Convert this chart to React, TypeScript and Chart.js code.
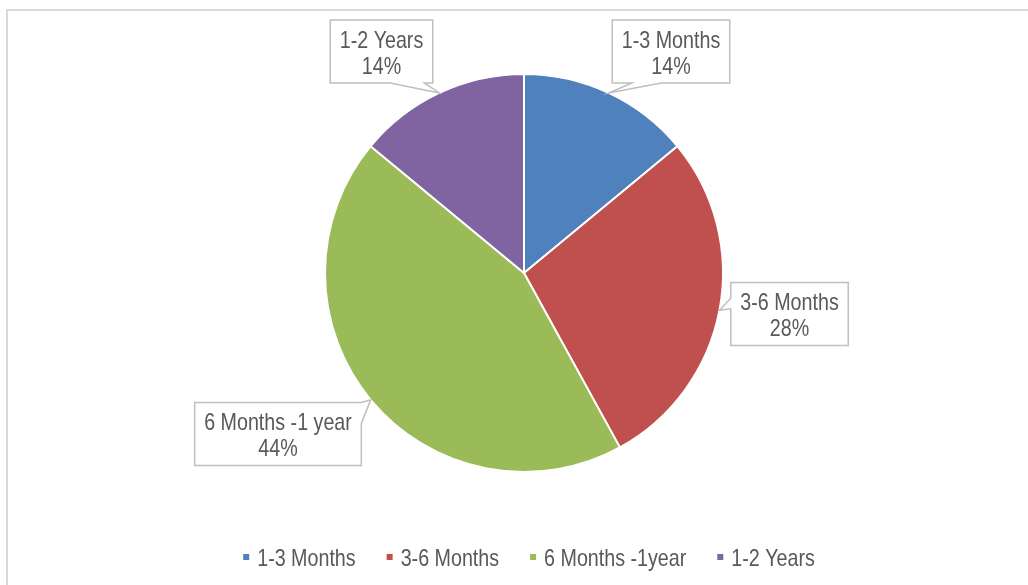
import React, { useEffect, useRef } from "react";
import { Chart, registerables } from "chart.js";

Chart.register(...registerables);

// ---- data ----
const categories = ["1-3 Months", "3-6 Months", "6 Months -1year", "1-2 Years"];
const calloutNames = ["1-3 Months", "3-6 Months", "6 Months -1 year", "1-2 Years"];
const shares = [14, 28, 44, 14];
const sliceColors = ["#4F81BD", "#C0504D", "#9BBB59", "#8064A2"];

// ---- callout layout (box centre offset from pie centre, wedge edge / base fractions) ----
const calloutOffsets: number[][] = [
  [147, -221.5],
  [265.5, 41],
  [-246, 161],
  [-142.5, -221.5],
];
const wedgeEdges = ["bottom", "left", "right", "bottom"];
const wedgeBases: number[][] = [
  [1 / 6, 5 / 12],
  [1 / 4, 5 / 12],
  [0, 1 / 3],
  [7 / 12, 11 / 12],
];

const W = 1028;
const H = 585;
const TEXT_COLOR = "#595959";
const FONT_SIZE = 24;

let fontFamily = '"Liberation Sans", Arial, sans-serif';
let xScale = 0.82;

function setupFont(ctx: CanvasRenderingContext2D) {
  const probe = "1-3 Months Wy";
  ctx.font = `${FONT_SIZE}px monospace`;
  const a = ctx.measureText(probe).width;
  ctx.font = `${FONT_SIZE}px "Liberation Sans Narrow", monospace`;
  const b = ctx.measureText(probe).width;
  if (Math.abs(a - b) > 0.5) {
    fontFamily = '"Liberation Sans Narrow", "Arial Narrow", sans-serif';
    xScale = 1;
  }
}

function setFont(ctx: CanvasRenderingContext2D) {
  ctx.font = `${FONT_SIZE}px ${fontFamily}`;
}

function textW(ctx: CanvasRenderingContext2D, t: string) {
  return ctx.measureText(t).width * xScale;
}

function drawText(
  ctx: CanvasRenderingContext2D,
  t: string,
  x: number,
  y: number,
  align: CanvasTextAlign
) {
  ctx.save();
  ctx.translate(x, y);
  ctx.scale(xScale, 1);
  ctx.textAlign = align;
  ctx.textBaseline = "alphabetic";
  ctx.fillStyle = TEXT_COLOR;
  ctx.fillText(t, 0, 0);
  ctx.restore();
}

const decorPlugin = {
  id: "decor",
  beforeDraw(chart: any) {
    const ctx: CanvasRenderingContext2D = chart.ctx;
    ctx.save();
    ctx.fillStyle = "#ffffff";
    ctx.fillRect(0, 0, W, H);
    ctx.strokeStyle = "#D9D9D9";
    ctx.lineWidth = 2;
    ctx.strokeRect(7, 10, W + 100, H + 100);
    ctx.restore();
  },
  afterDatasetsDraw(chart: any) {
    const ctx: CanvasRenderingContext2D = chart.ctx;
    const meta = chart.getDatasetMeta(0);
    const values: number[] = chart.data.datasets[0].data;
    const total = values.reduce((s, v) => s + v, 0);
    ctx.save();
    setFont(ctx);
    meta.data.forEach((arc: any, i: number) => {
      const p = arc.getProps(["x", "y", "startAngle", "endAngle", "outerRadius"], true);
      const mid = (p.startAngle + p.endAngle) / 2;
      const tx = p.x + Math.cos(mid) * p.outerRadius;
      const ty = p.y + Math.sin(mid) * p.outerRadius;
      const lines = [calloutNames[i], Math.round((values[i] / total) * 100) + "%"];
      const w = Math.max(...lines.map((l) => textW(ctx, l))) + 19;
      const h = 63;
      const cx = p.x + calloutOffsets[i][0];
      const cy = p.y + calloutOffsets[i][1];
      const l = cx - w / 2;
      const t = cy - h / 2;
      const r = cx + w / 2;
      const b = cy + h / 2;
      const [f1, f2] = wedgeBases[i];
      const edge = wedgeEdges[i];
      const pts: number[][] = [];
      pts.push([l, t]);
      if (edge === "top") {
        pts.push([l + f1 * w, t], [tx, ty], [l + f2 * w, t]);
      }
      pts.push([r, t]);
      if (edge === "right") {
        pts.push([r, t + f1 * h], [tx, ty], [r, t + f2 * h]);
      }
      pts.push([r, b]);
      if (edge === "bottom") {
        pts.push([l + f2 * w, b], [tx, ty], [l + f1 * w, b]);
      }
      pts.push([l, b]);
      if (edge === "left") {
        pts.push([l, t + f2 * h], [tx, ty], [l, t + f1 * h]);
      }
      ctx.beginPath();
      pts.forEach((pt, k) => (k === 0 ? ctx.moveTo(pt[0], pt[1]) : ctx.lineTo(pt[0], pt[1])));
      ctx.closePath();
      ctx.fillStyle = "#ffffff";
      ctx.fill();
      ctx.strokeStyle = "#BFBFBF";
      ctx.lineWidth = 1.5;
      ctx.lineJoin = "miter";
      ctx.stroke();
      drawText(ctx, lines[0], cx, cy - 12.5 + 8.6, "center");
      drawText(ctx, lines[1], cx, cy + 13.5 + 8.6, "center");
    });

    // legend
    const labels: string[] = chart.data.labels;
    const colors: string[] = chart.data.datasets[0].backgroundColor;
    const box = 6;
    const textGap = 14;
    const itemGap = 31;
    const widths = labels.map((lb) => textW(ctx, lb));
    const total_w =
      widths.reduce((s, v) => s + v, 0) + labels.length * textGap + (labels.length - 1) * itemGap;
    const centerX = (chart.chartArea.left + chart.chartArea.right) / 2 + 5;
    let x = centerX - total_w / 2;
    const ly = 557;
    labels.forEach((lb, i) => {
      ctx.fillStyle = colors[i];
      ctx.fillRect(x, ly - box / 2, box, box);
      drawText(ctx, lb, x + textGap, ly + 8.6, "left");
      x += textGap + widths[i] + itemGap;
    });
    ctx.restore();
  },
};

export default function App() {
  const ref = useRef<HTMLCanvasElement | null>(null);
  useEffect(() => {
    const canvas = ref.current;
    if (!canvas) return;
    const ctx = canvas.getContext("2d");
    if (ctx) setupFont(ctx);
    const chart = new Chart(canvas, {
      type: "pie",
      data: {
        labels: categories,
        datasets: [
          {
            data: shares,
            backgroundColor: sliceColors,
            borderColor: "#ffffff",
            borderWidth: 2,
          },
        ],
      },
      options: {
        responsive: false,
        animation: false,
        devicePixelRatio: 1,
        events: [],
        layout: { padding: { top: 73, bottom: 112, left: 20, right: 0 } },
        plugins: {
          legend: { display: false },
          tooltip: { enabled: false },
        },
      },
      plugins: [decorPlugin],
    });
    return () => chart.destroy();
  }, []);
  return (
    <canvas
      ref={ref}
      width={W}
      height={H}
      style={{ position: "fixed", left: 0, top: 0, width: W, height: H }}
    />
  );
}
